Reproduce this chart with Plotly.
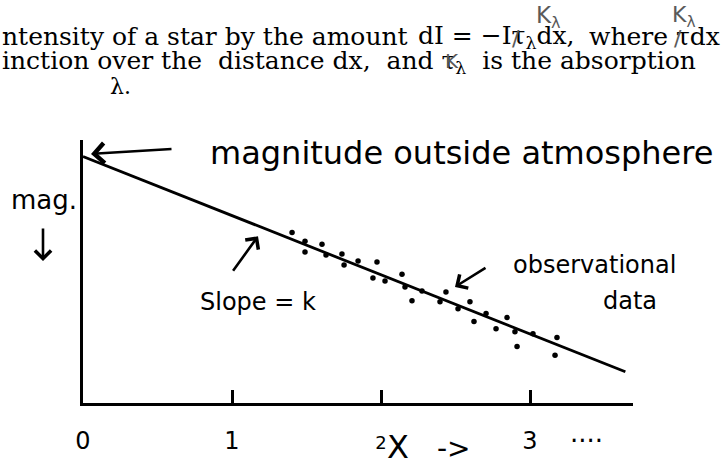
import plotly.graph_objects as go

# Air mass (X) against observed magnitude: fitted extinction line and observations
line_x = [0.0, 3.64]
line_mag = [0.5, 7.05]

obs_x = [1.403, 1.490, 1.490, 1.604, 1.631, 1.738, 1.752, 1.846, 1.973, 1.946,
         2.027, 2.141, 2.161, 2.275, 2.208, 2.436, 2.396, 2.517, 2.597, 2.624,
         2.705, 2.772, 2.846, 2.899, 2.913, 3.020, 3.181, 3.168]
obs_mag = [2.81, 3.08, 3.41, 3.17, 3.50, 3.47, 3.80, 3.68, 3.71, 4.20,
           4.29, 4.08, 4.47, 4.59, 4.89, 4.62, 4.92, 5.13, 4.92, 5.52,
           5.28, 5.74, 5.40, 5.83, 6.28, 5.89, 6.01, 6.55]

tick_vals = [0, 1, 2, 3]
tick_text = ["0", "1", "<span style='font-size:18px'>2</span>", "3"]

W, H = 723, 467
L, R, T, B = 83, 90, 140, 62
PW, PH = W - L - R, H - T - B


def px(x):
    return (x - L) / PW


def py(y):
    return (H - B - y) / PH


HAND = "DejaVu Sans"
SERIF = "DejaVu Serif"
PENCIL = "#5a5a5a"
NB = "\u00a0"

fig = go.Figure()
fig.add_trace(go.Scatter(x=line_x, y=line_mag, mode="lines",
                         line=dict(color="black", width=2.8),
                         hoverinfo="skip", showlegend=False))
fig.add_trace(go.Scatter(x=obs_x, y=obs_mag, mode="markers",
                         marker=dict(color="black", size=5.5),
                         showlegend=False))

ann = []


def text(s, x, y, size, font=HAND, xanchor="center", color="black"):
    ann.append(dict(text=s, x=px(x), y=py(y), xref="paper", yref="paper",
                    xanchor=xanchor, yanchor="middle", showarrow=False,
                    font=dict(family=font, size=size, color=color)))


def arrow(hx, hy, tx, ty, width=2.6, size=1.2):
    ann.append(dict(text="", x=px(hx), y=py(hy), xref="paper", yref="paper",
                    ax=tx - hx, ay=ty - hy, showarrow=True, arrowhead=4,
                    arrowsize=size, arrowwidth=width, arrowcolor="black"))


# printed text running across the top
FS = 25
text("ntensity of a star by the amount", 0, 36, FS, font=SERIF, xanchor="left")
text(f"dI{NB}={NB}−Iτ<sub>λ</sub>dx,", 416, 36, FS, font=SERIF, xanchor="left")
text("where τdx", 722, 36, FS, font=SERIF, xanchor="right")
text(f"inction over the{NB} distance dx,{NB} and τ<sub>λ</sub>{NB} is the absorption",
     0, 61, FS, font=SERIF, xanchor="left")
text("λ.", 108, 86, 22, font=SERIF, xanchor="left")

# pencilled corrections over the printed symbols
text("K<sub>λ</sub>", 548, 16, 23, color=PENCIL)
text("K<sub>λ</sub>", 684, 16, 22, color=PENCIL)
text("K", 452, 60, 20, color=PENCIL)
text("/", 516, 38, 22, color=PENCIL)
text("/", 678, 38, 22, color=PENCIL)

# handwritten annotations
text("magnitude outside atmosphere", 461, 153, 32)
text("mag.", 44, 200, 26)
text("Slope = k", 258, 303, 24)
text("observational", 594, 266, 24)
text("data", 630, 302, 24)
text("X", 398, 449, 32)
text("->", 454, 451, 28)
text("....", 586, 435, 26)

arrow(91, 154, 173, 149, size=1.5)
arrow(43, 262, 43, 228)
arrow(258, 237, 232, 273)
arrow(455, 288, 487, 268)

fig.update_layout(
    width=W, height=H,
    margin=dict(l=L, r=R, t=T, b=B, pad=0),
    paper_bgcolor="white", plot_bgcolor="white",
    annotations=ann,
    xaxis=dict(range=[0, PW / 149], showgrid=False, zeroline=False,
               showline=True, linecolor="black", linewidth=3,
               ticks="inside", ticklen=13, tickwidth=2.5, tickcolor="black",
               tickvals=tick_vals, ticktext=tick_text, ticklabelstandoff=14,
               tickfont=dict(family=HAND, size=24, color="black")),
    yaxis=dict(range=[8, 0], showgrid=False, zeroline=False,
               showline=True, linecolor="black", linewidth=3,
               showticklabels=False, ticks=""),
)

fig.write_html("out.html")
